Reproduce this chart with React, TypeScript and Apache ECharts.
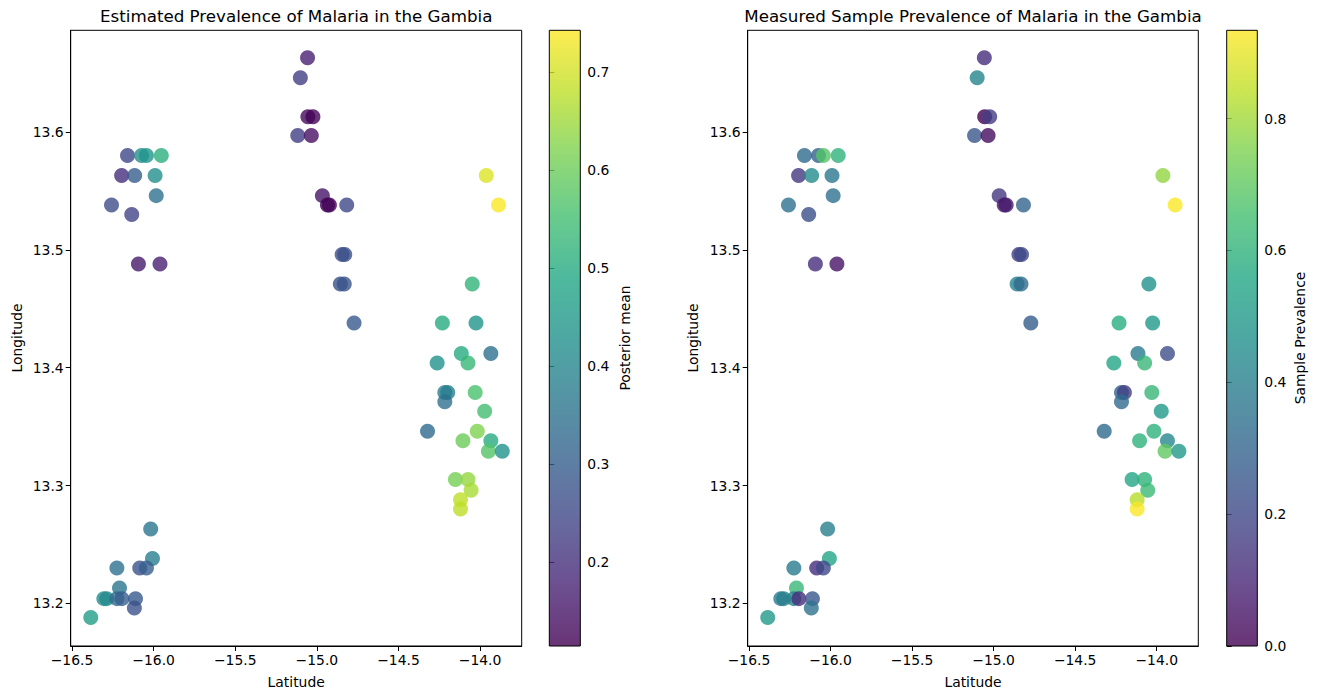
import React, { useEffect, useRef } from "react";
import * as echarts from "echarts";

// Village locations (shared by both panels)
const lons: number[] = [
  -15.057, -15.101, -15.055, -15.024, -15.117, -15.034, -14.966, -14.935, -14.923, -14.817,
  -14.845, -14.829, -14.856, -14.832, -14.772, -16.160, -16.074, -16.044, -15.953, -16.196,
  -16.116, -15.991, -15.984, -16.258, -16.134, -16.093, -15.961, -13.962, -13.887, -14.048,
  -14.231, -14.025, -14.115, -13.934, -14.263, -14.074, -14.216, -14.198, -14.216, -14.030,
  -13.972, -14.322, -14.017, -14.105, -13.934, -13.949, -13.864, -14.151, -14.074, -14.055,
  -14.120, -14.120, -16.018, -16.007, -16.225, -16.085, -16.044, -16.209, -16.305, -16.287,
  -16.225, -16.194, -16.111, -16.118, -16.385,
];
const lats: number[] = [
  13.663, 13.646, 13.613, 13.613, 13.597, 13.597, 13.546, 13.538, 13.538, 13.538,
  13.496, 13.496, 13.471, 13.471, 13.438, 13.580, 13.580, 13.580, 13.580, 13.563,
  13.563, 13.563, 13.546, 13.538, 13.530, 13.488, 13.488, 13.563, 13.538, 13.471,
  13.438, 13.438, 13.412, 13.412, 13.404, 13.404, 13.379, 13.379, 13.371, 13.379,
  13.363, 13.346, 13.346, 13.338, 13.338, 13.329, 13.329, 13.305, 13.305, 13.296,
  13.288, 13.280, 13.263, 13.238, 13.230, 13.230, 13.230, 13.213, 13.204, 13.204,
  13.204, 13.204, 13.204, 13.196, 13.188,
];
// Posterior mean prevalence
const posteriorMean: number[] = [
  0.17, 0.23, 0.13, 0.12, 0.23, 0.14, 0.15, 0.12, 0.12, 0.25,
  0.26, 0.27, 0.27, 0.28, 0.29, 0.25, 0.42, 0.44, 0.51, 0.20,
  0.30, 0.42, 0.35, 0.26, 0.24, 0.16, 0.17, 0.71, 0.74, 0.52,
  0.50, 0.44, 0.50, 0.35, 0.43, 0.53, 0.38, 0.38, 0.35, 0.56,
  0.55, 0.33, 0.62, 0.60, 0.50, 0.57, 0.43, 0.61, 0.64, 0.66,
  0.68, 0.68, 0.36, 0.38, 0.35, 0.27, 0.30, 0.36, 0.42, 0.41,
  0.33, 0.30, 0.29, 0.27, 0.46,
];
// Measured sample prevalence
const samplePrev: number[] = [
  0.12, 0.42, 0.00, 0.17, 0.25, 0.03, 0.15, 0.06, 0.07, 0.30,
  0.17, 0.20, 0.42, 0.32, 0.27, 0.32, 0.28, 0.68, 0.60, 0.15,
  0.45, 0.37, 0.35, 0.35, 0.23, 0.12, 0.05, 0.78, 0.93, 0.47,
  0.58, 0.50, 0.38, 0.22, 0.55, 0.62, 0.30, 0.17, 0.33, 0.62,
  0.50, 0.32, 0.60, 0.60, 0.43, 0.70, 0.50, 0.55, 0.60, 0.63,
  0.83, 0.93, 0.40, 0.55, 0.38, 0.12, 0.20, 0.62, 0.38, 0.40,
  0.40, 0.12, 0.25, 0.35, 0.50,
];

const xTicks: number[] = [-16.5, -16.0, -15.5, -15.0, -14.5, -14.0];
const yTicks: number[] = [13.2, 13.3, 13.4, 13.5, 13.6];
const cbTicksLeft: number[] = [0.2, 0.3, 0.4, 0.5, 0.6, 0.7];
const cbTicksRight: number[] = [0.0, 0.2, 0.4, 0.6, 0.8];

const X_MIN = -16.508;
const X_MAX = -13.745;
const Y_MIN = 13.1638;
const Y_MAX = 13.6863;
const CB_LEFT = [0.1143, 0.7426];
const CB_RIGHT = [0.0, 0.934];

const viridis = [
  "#440154", "#482475", "#414487", "#355f8d", "#2a788e", "#21918c",
  "#22a884", "#44bf70", "#7ad151", "#bddf26", "#fde725",
];

const FONT = "DejaVu Sans";
const fmt = (v: number) => v.toFixed(1).replace("-", "\u2212");

function rgba(hex: string, a: number) {
  const r = parseInt(hex.slice(1, 3), 16);
  const g = parseInt(hex.slice(3, 5), 16);
  const b = parseInt(hex.slice(5, 7), 16);
  return `rgba(${r},${g},${b},${a})`;
}

export default function App() {
  const ref = useRef<HTMLDivElement>(null);
  useEffect(() => {
    if (!ref.current) return;
    const chart = echarts.init(ref.current, null, { renderer: "svg" });

    const estData = lons.map((x, i) => [x, lats[i], posteriorMean[i]]);
    const sampData = lons.map((x, i) => [x, lats[i], samplePrev[i]]);

    const axisBase = {
      axisLine: { show: true, lineStyle: { color: "#000", width: 1 } },
      axisTick: { show: true, inside: false, length: 5, lineStyle: { color: "#000", width: 1 } },
      splitLine: { show: false },
    };
    const labelStyle = { color: "#000", fontFamily: FONT, fontSize: 13.9 };

    const scatterX = (gi: number) => ({
      type: "value",
      gridIndex: gi,
      min: X_MIN,
      max: X_MAX,
      ...axisBase,
      axisTick: { ...axisBase.axisTick, customValues: xTicks },
      axisLabel: { ...labelStyle, margin: 7, customValues: xTicks, formatter: fmt },
    });
    const scatterY = (gi: number) => ({
      type: "value",
      gridIndex: gi,
      min: Y_MIN,
      max: Y_MAX,
      ...axisBase,
      axisTick: { ...axisBase.axisTick, customValues: yTicks },
      axisLabel: { ...labelStyle, margin: 7, customValues: yTicks, formatter: fmt },
    });
    const cbX = (gi: number) => ({ type: "value", gridIndex: gi, min: 0, max: 1, show: false });
    const cbY = (gi: number, rng: number[], ticks: number[]) => ({
      type: "value",
      gridIndex: gi,
      min: rng[0],
      max: rng[1],
      position: "right",
      ...axisBase,
      axisLine: { show: false },
      axisTick: { ...axisBase.axisTick, customValues: ticks },
      axisLabel: { ...labelStyle, margin: 7, customValues: ticks, formatter: fmt },
    });

    const stops = viridis.map((c, i) => ({ offset: i / (viridis.length - 1), color: rgba(c, 0.8) }));
    const cbSeries = (gi: number, rng: number[]) => ({
      type: "custom",
      xAxisIndex: gi,
      yAxisIndex: gi,
      silent: true,
      data: [[0.5, (rng[0] + rng[1]) / 2]],
      renderItem: (params: any) => {
        const cs = params.coordSys;
        return {
          type: "rect",
          shape: { x: cs.x, y: cs.y, width: cs.width, height: cs.height },
          style: {
            fill: new echarts.graphic.LinearGradient(0, 1, 0, 0, stops),
            stroke: "#000",
            lineWidth: 1,
          },
        };
      },
    });

    const gridTop = 30.3;
    const gridH = 615.7;
    const txt = (text: string, x: number, y: number, size: number, rot = 0) => ({
      type: "text",
      x,
      y,
      rotation: rot,
      style: {
        text,
        fill: "#000",
        font: `${size}px "${FONT}"`,
        align: "center",
        verticalAlign: "middle",
      },
    });

    chart.setOption({
      animation: false,
      backgroundColor: "#fff",
      grid: [
        { left: 70.7, top: gridTop, width: 451, height: gridH, show: true, borderColor: "#000", borderWidth: 1, backgroundColor: "#fff" },
        { left: 549.3, top: gridTop, width: 31, height: gridH },
        { left: 747.7, top: gridTop, width: 450.6, height: gridH, show: true, borderColor: "#000", borderWidth: 1, backgroundColor: "#fff" },
        { left: 1226.7, top: gridTop, width: 30.6, height: gridH },
      ],
      xAxis: [scatterX(0), cbX(1), scatterX(2), cbX(3)],
      yAxis: [scatterY(0), cbY(1, CB_LEFT, cbTicksLeft), scatterY(2), cbY(3, CB_RIGHT, cbTicksRight)],
      visualMap: [
        { type: "continuous", show: false, seriesIndex: 0, dimension: 2, min: CB_LEFT[0], max: CB_LEFT[1], inRange: { color: viridis } },
        { type: "continuous", show: false, seriesIndex: 2, dimension: 2, min: CB_RIGHT[0], max: CB_RIGHT[1], inRange: { color: viridis } },
      ],
      series: [
        { type: "scatter", xAxisIndex: 0, yAxisIndex: 0, data: estData, symbolSize: 15, itemStyle: { opacity: 0.8 } },
        cbSeries(1, CB_LEFT),
        { type: "scatter", xAxisIndex: 2, yAxisIndex: 2, data: sampData, symbolSize: 15, itemStyle: { opacity: 0.8 } },
        cbSeries(3, CB_RIGHT),
      ],
      graphic: [
        txt("Estimated Prevalence of Malaria in the Gambia", 296.2, 16, 16.7),
        txt("Measured Sample Prevalence of Malaria in the Gambia", 973, 16, 16.7),
        txt("Latitude", 296.2, 682, 13.9),
        txt("Latitude", 973, 682, 13.9),
        txt("Longitude", 16.5, 338, 13.9, Math.PI / 2),
        txt("Longitude", 693, 338, 13.9, Math.PI / 2),
        txt("Posterior mean", 624.5, 338, 13.9, Math.PI / 2),
        txt("Sample Prevalence", 1299.7, 338, 13.9, Math.PI / 2),
      ],
    });
    return () => chart.dispose();
  }, []);
  return (
    <div
      ref={ref}
      style={{ position: "fixed", left: 0, top: 0, width: "1317px", height: "699px" }}
    />
  );
}
